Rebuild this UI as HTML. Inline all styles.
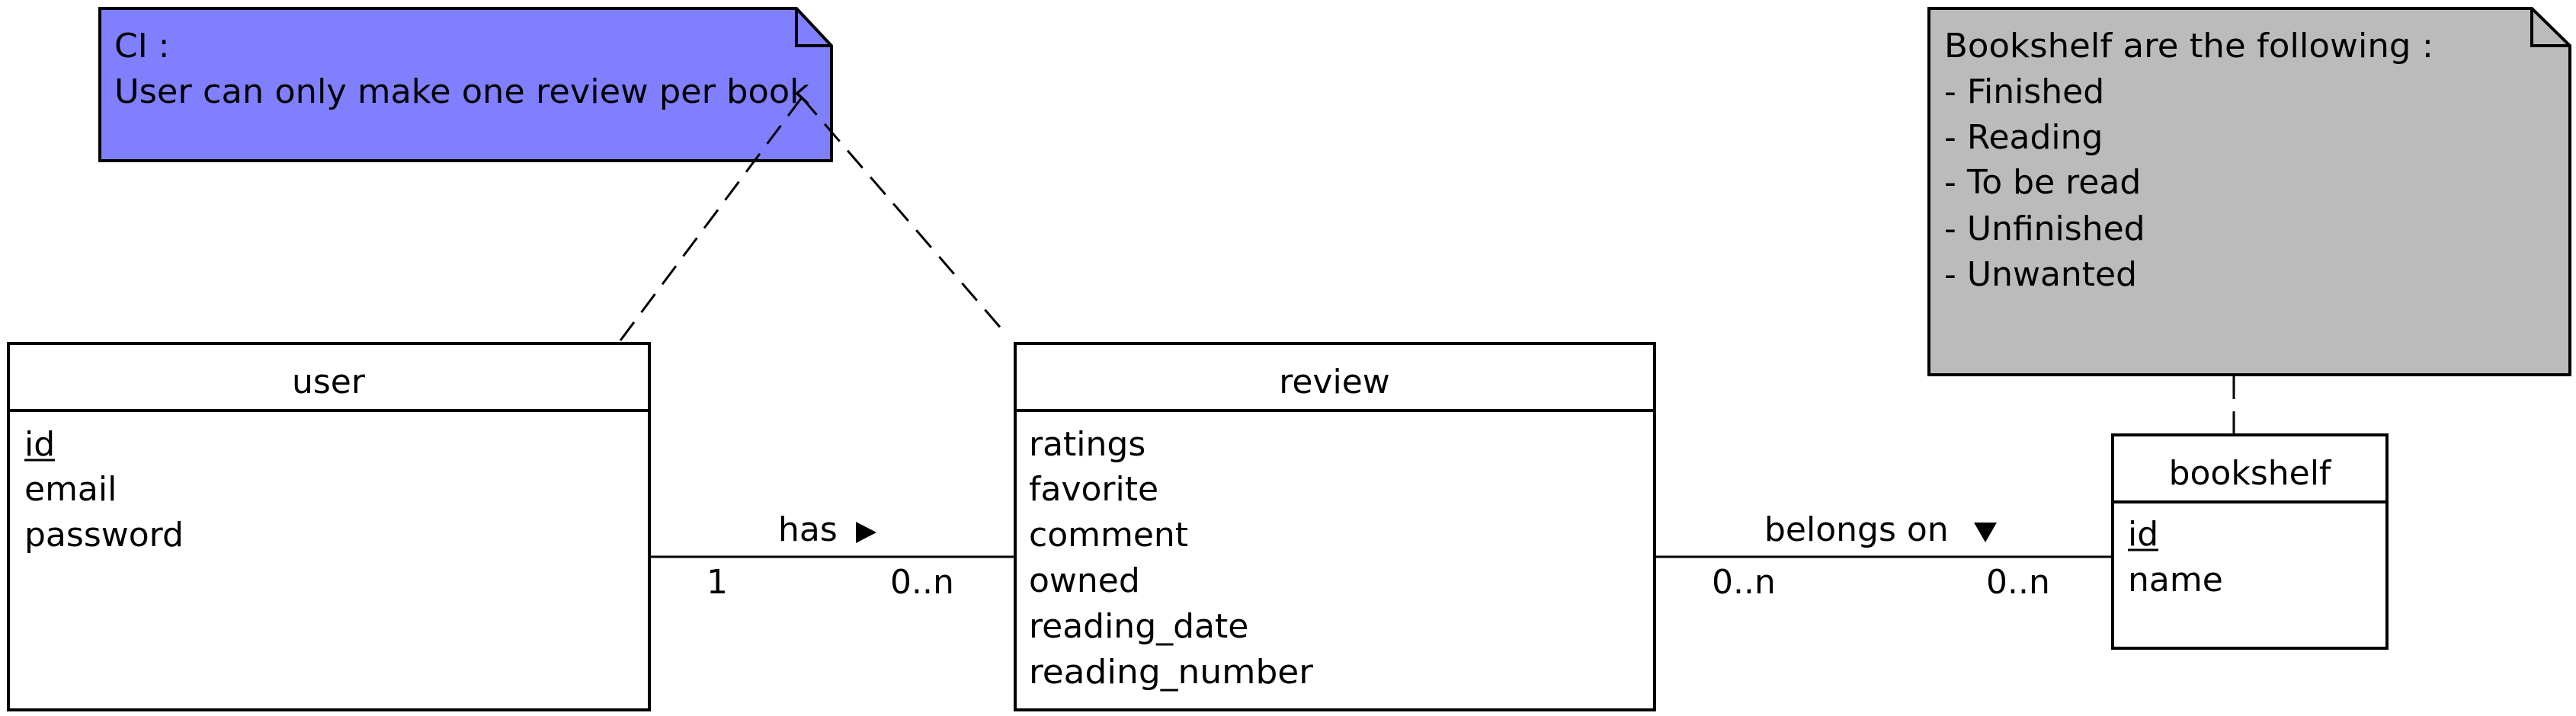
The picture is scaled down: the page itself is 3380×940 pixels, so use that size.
<!DOCTYPE html>
<html><head><meta charset="utf-8"><style>
html,body{margin:0;padding:0;background:#fff;}
svg{display:block;}
text{font-family:"DejaVu Sans","Liberation Sans",sans-serif;font-size:44px;fill:#000;}
</style></head><body>
<svg width="3380" height="940" viewBox="0 0 3380 940" xmlns="http://www.w3.org/2000/svg">
<!-- blue note -->
<path d="M131 11 L1045 11 L1091 60 L1091 211 L131 211 Z" fill="#8080ff" stroke="#000" stroke-width="4"/>
<path d="M1045 11 L1045 60 L1091 60" fill="none" stroke="#000" stroke-width="4"/>
<text x="150" y="75">CI :</text>
<text x="150" y="135" textLength="912" lengthAdjust="spacingAndGlyphs">User can only make one review per book</text>
<!-- dashed links -->
<g stroke="#000" stroke-width="3" stroke-dasharray="30,16" fill="none">
<line x1="1052" y1="128" x2="811" y2="451"/>
<line x1="1052" y1="128" x2="1322" y2="441"/>
<line x1="2931" y1="494" x2="2931" y2="571"/>
</g>
<!-- gray note -->
<path d="M2531 11 L3322 11 L3372 60 L3372 492 L2531 492 Z" fill="#bbbbbb" stroke="#000" stroke-width="4"/>
<path d="M3322 11 L3322 60 L3372 60" fill="none" stroke="#000" stroke-width="4"/>
<text x="2551" y="75" textLength="642" lengthAdjust="spacingAndGlyphs">Bookshelf are the following :</text>
<text x="2551" y="135">- Finished</text>
<text x="2551" y="195">- Reading</text>
<text x="2551" y="254">- To be read</text>
<text x="2551" y="315">- Unfinished</text>
<text x="2551" y="375">- Unwanted</text>
<!-- user -->
<rect x="11" y="451" width="841" height="481" fill="#fff" stroke="#000" stroke-width="4"/>
<line x1="11" y1="539" x2="850" y2="539" stroke="#000" stroke-width="4"/>
<text x="431" y="516" text-anchor="middle">user</text>
<text x="32" y="598">id</text>
<line x1="32" y1="604" x2="72" y2="604" stroke="#000" stroke-width="3"/>
<text x="32" y="657">email</text>
<text x="32" y="717">password</text>
<!-- review -->
<rect x="1332" y="451" width="839" height="481" fill="#fff" stroke="#000" stroke-width="4"/>
<line x1="1332" y1="539" x2="2169" y2="539" stroke="#000" stroke-width="4"/>
<text x="1751" y="516" text-anchor="middle">review</text>
<text x="1350" y="598">ratings</text>
<text x="1350" y="657">favorite</text>
<text x="1350" y="717">comment</text>
<text x="1350" y="777">owned</text>
<text x="1350" y="837">reading_date</text>
<text x="1350" y="897" textLength="373" lengthAdjust="spacingAndGlyphs">reading_number</text>
<!-- bookshelf -->
<rect x="2772" y="571" width="360" height="280" fill="#fff" stroke="#000" stroke-width="4"/>
<line x1="2772" y1="659" x2="3130" y2="659" stroke="#000" stroke-width="4"/>
<text x="2952" y="636" text-anchor="middle">bookshelf</text>
<text x="2792" y="716">id</text>
<line x1="2792" y1="722" x2="2832" y2="722" stroke="#000" stroke-width="3"/>
<text x="2792" y="776">name</text>
<!-- connectors -->
<line x1="852" y1="731" x2="1332" y2="731" stroke="#000" stroke-width="3"/>
<line x1="2171" y1="731" x2="2772" y2="731" stroke="#000" stroke-width="3"/>
<text x="1021" y="710">has</text>
<polygon points="1123,685 1123,713 1150,699" fill="#000"/>
<text x="927" y="779">1</text>
<text x="1168" y="779">0..n</text>
<text x="2315" y="710">belongs on</text>
<polygon points="2590,686 2620,686 2605,712" fill="#000"/>
<text x="2246" y="779">0..n</text>
<text x="2606" y="779">0..n</text>
</svg>
</body></html>
